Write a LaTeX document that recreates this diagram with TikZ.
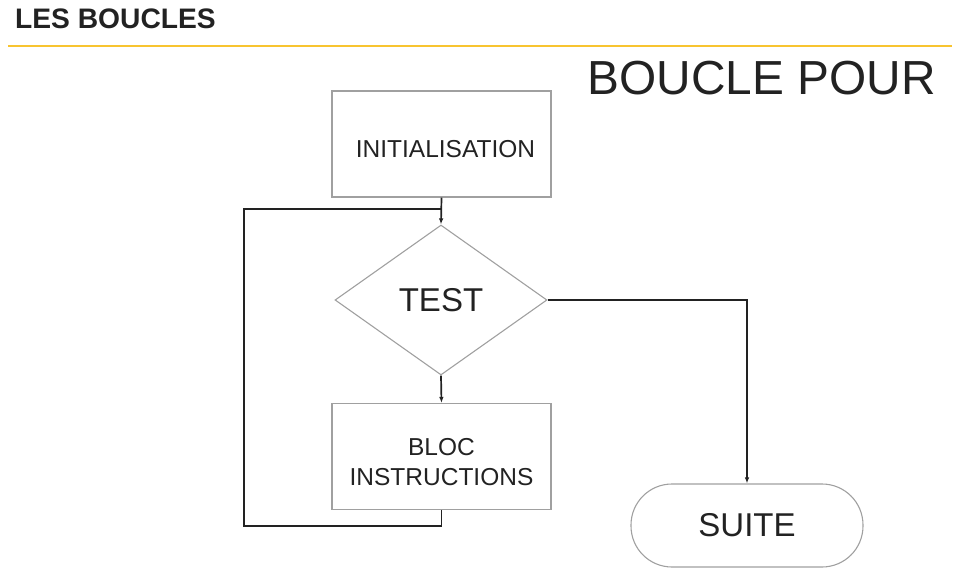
\documentclass[tikz,border=0pt]{standalone}
\usepackage{fontspec}
\setmainfont{Liberation Sans}
\usetikzlibrary{shapes.geometric,arrows.meta}
\definecolor{ink}{RGB}{34,34,34}
\definecolor{boxgray}{RGB}{160,160,160}
\definecolor{gold}{RGB}{248,196,48}
\tikzset{
  boxnode/.style={draw=boxgray, line width=1.1pt, rectangle, minimum width=219pt, minimum height=106pt, inner sep=0pt},
  boxtext/.style={inner sep=0pt, text=ink, font=\fontsize{24.5}{30}\selectfont, align=center},
  decision/.style={draw=boxgray, line width=1.1pt, diamond, minimum width=212pt, minimum height=150pt, inner sep=0pt, text=ink, font=\fontsize{33}{38}\selectfont},
  terminal/.style={draw=boxgray, line width=1.1pt, rectangle, rounded corners=41pt, minimum width=232pt, minimum height=83pt, inner sep=0pt, text=ink, font=\fontsize{33}{38}\selectfont},
  conn/.style={draw=ink, line width=1.7pt},
  arr/.style={conn, -{Latex[length=6pt,width=4.5pt]}},
}
\begin{document}
\begin{tikzpicture}[x=1pt,y=-1pt]
\useasboundingbox (0,0) rectangle (978,575);
% header
\node[anchor=base west, inner sep=0pt, text=ink, font=\fontsize{28.2}{30}\bfseries\selectfont] (header) at (15,29) {LES BOUCLES};
\draw[gold, line width=2.6pt] (8,46) -- (952,46);
\node[anchor=base east, inner sep=0pt, text=ink, font=\fontsize{47.8}{54}\selectfont] (title) at (936,95) {BOUCLE POUR};
% nodes
\node[boxnode] (init) at (441.5,144) {};
\node[boxtext] (initlabel) at ([xshift=4pt,yshift=-5pt]init.center) {INITIALISATION};
\node[decision] (test) at (441,300) {TEST};
\node[boxnode] (bloc) at (441.5,456.5) {};
\node[boxtext] (bloclabel) at ([yshift=-6pt]bloc.center) {BLOC\\INSTRUCTIONS};
\node[terminal] (suite) at (747,525.5) {SUITE};
% loop coordinates
\coordinate (lb) at (244,526);
\coordinate (lt) at (244,209);
% connectors
\draw[arr] (init.south) -- (test.north);
\draw[arr] (test.south) -- (bloc.north);
\draw[conn] (bloc.south) |- (lb) -- (lt) -- (lt -| test.north);
\draw[arr] (test.east) -| (suite.north);
\end{tikzpicture}
\end{document}
